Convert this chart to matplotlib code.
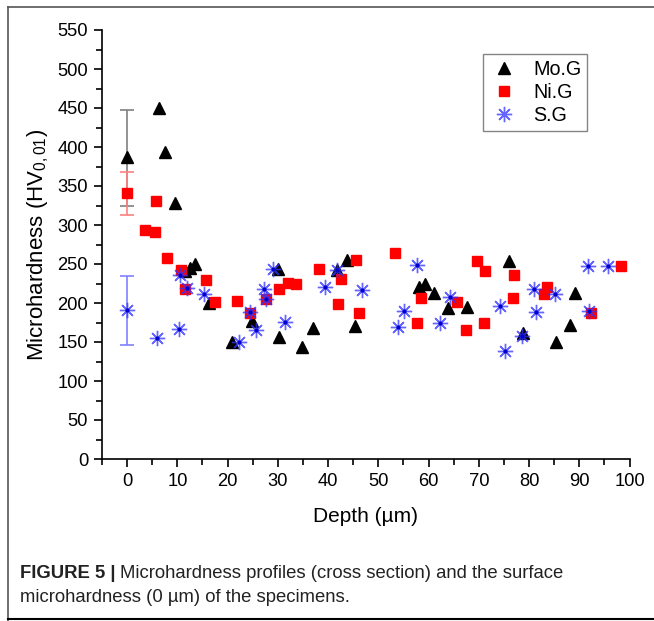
import numpy as np
import matplotlib
matplotlib.use("Agg")
import matplotlib.pyplot as plt
from matplotlib import ticker
from matplotlib.lines import Line2D

plt.rcParams['font.family'] = ['Liberation Sans', 'DejaVu Sans']
plt.rcParams['mathtext.fontset'] = 'custom'
plt.rcParams['mathtext.rm'] = 'Liberation Sans'
plt.rcParams['mathtext.it'] = 'Liberation Sans:italic'

# Mo.G (black triangles)
mo_depth = [0, 6.3, 7.6, 9.6, 11.5, 12.5, 13.6, 16.3, 20.8, 24.9, 30.0, 30.2, 34.9, 37.0,
            41.8, 43.7, 45.4, 58.0, 59.2, 61.1, 63.8, 67.7, 76.0, 78.9, 85.4, 88.1, 89.1]
mo_hv = [387, 450, 394, 328, 241, 245, 250, 200, 150, 177, 243, 157, 143, 168,
         242, 255, 170, 220, 224, 213, 194, 195, 254, 162, 150, 172, 213]

# Ni.G (red squares)
ni_depth = [0, 3.5, 5.6, 5.7, 8.0, 10.8, 11.5, 15.8, 17.5, 21.9, 24.4, 27.7, 30.3, 32.0,
            33.7, 38.1, 41.9, 42.5, 45.5, 46.1, 53.4, 57.8, 58.5, 65.6, 67.5, 69.6, 71.0,
            71.3, 76.9, 77.0, 83.0, 83.5, 92.3, 98.3]
ni_hv = [341, 294, 291, 331, 258, 242, 218, 229, 201, 203, 187, 205, 218, 226,
         225, 243, 199, 231, 255, 187, 264, 174, 207, 201, 166, 254, 175,
         241, 206, 236, 211, 220, 187, 247]

# S.G (blue asterisks)
s_depth = [0, 6.0, 10.3, 10.6, 12.0, 15.4, 22.3, 24.4, 25.6, 27.2, 27.7, 29.0, 31.5, 39.3,
           41.8, 46.8, 53.9, 55.1, 57.8, 62.3, 64.2, 74.3, 75.2, 78.6, 81.0, 81.4, 85.1,
           91.8, 92.0, 95.7]
s_hv = [191, 155, 167, 236, 219, 212, 150, 188, 165, 218, 205, 244, 176, 220,
        242, 217, 169, 190, 249, 174, 208, 196, 138, 158, 218, 188, 211,
        248, 190, 247]

# surface (0 um) error bars: value, lower, upper
surf_mo = [387, 324, 447]
surf_ni = [341, 313, 368]
surf_s = [191, 146, 235]

fig = plt.figure(figsize=(6.54, 6.21), dpi=100)
ax = fig.add_axes([102/654, 1 - 459/621, (629.5 - 102)/654, (459 - 30)/621])

# error bars at the surface
for vals, col in [(surf_mo, '#808080'), (surf_ni, '#ff8080'), (surf_s, '#8080ff')]:
    ax.errorbar([0], [vals[0]], yerr=[[vals[0] - vals[1]], [vals[2] - vals[0]]],
                fmt='none', ecolor=col, elinewidth=1.2, capsize=5, capthick=1.2, zorder=2)

ax.plot(mo_depth, mo_hv, linestyle='none', marker='^', markersize=9,
        color='black', label='Mo.G', zorder=3)
ax.plot(ni_depth, ni_hv, linestyle='none', marker='s', markersize=7,
        color='#ff0000', markeredgecolor='#ff0000', label='Ni.G', zorder=3)
ax.plot(s_depth, s_hv, linestyle='none', marker=(8, 2, 0), markersize=11,
        color='#3333ff', markeredgewidth=1.0, alpha=0.75, label='S.G', zorder=4)
ax.plot(s_depth, s_hv, linestyle='none', marker='o', markersize=2,
        color='#0000cc', zorder=4)

ax.set_xlim(-5, 100)
ax.set_ylim(0, 550)
ax.xaxis.set_major_locator(ticker.MultipleLocator(10))
ax.xaxis.set_minor_locator(ticker.MultipleLocator(5))
ax.yaxis.set_major_locator(ticker.MultipleLocator(50))
ax.yaxis.set_minor_locator(ticker.MultipleLocator(25))
ax.set_xticks(np.arange(0, 101, 10))
ax.tick_params(which='major', direction='out', length=6, width=1.2, labelsize=13.2, pad=4)
ax.tick_params(which='minor', direction='out', length=4, width=1.2)
ax.spines['top'].set_visible(False)
ax.spines['right'].set_visible(False)
for s in ['left', 'bottom']:
    ax.spines[s].set_linewidth(1.2)

ax.set_xlabel('Depth (µm)', fontsize=15, labelpad=12)
ax.set_ylabel('Microhardness (HV$_{0,01}$)', fontsize=16, labelpad=5)

leg = ax.legend(loc='upper left', bbox_to_anchor=(0.711, 0.958), fontsize=14.2,
                frameon=True, fancybox=False, edgecolor='#666666', handletextpad=0.75,
                borderpad=0.3, labelspacing=0.2, handlelength=1.5, borderaxespad=0.3)
leg.get_frame().set_linewidth(1.0)

# figure frame (left, top, bottom)
W, H = 654, 621
frame_col = '#555555'
fig.add_artist(Line2D([8/W, 8/W], [0, 1 - 7/H], color=frame_col, lw=1.2))
fig.add_artist(Line2D([8/W, 1], [1 - 7/H, 1 - 7/H], color=frame_col, lw=1.2))
fig.add_artist(Line2D([8/W, 1], [1 - 619/H, 1 - 619/H], color='black', lw=1.5))

# caption
t1 = fig.text(20/W, 1 - 573/H, 'FIGURE 5 |', fontsize=13.3, fontweight='bold',
              va='center', ha='left', color='#222222')
fig.canvas.draw()
bb = t1.get_window_extent()
fig.text(bb.x1 / fig.bbox.width + 4/W, 1 - 573/H,
         'Microhardness profiles (cross section) and the surface',
         fontsize=13.3, va='center', ha='left', color='#222222')
fig.text(20/W, 1 - 597/H, 'microhardness (0 µm) of the specimens.',
         fontsize=13.3, va='center', ha='left', color='#222222')

fig.savefig('out.png', dpi=100)
